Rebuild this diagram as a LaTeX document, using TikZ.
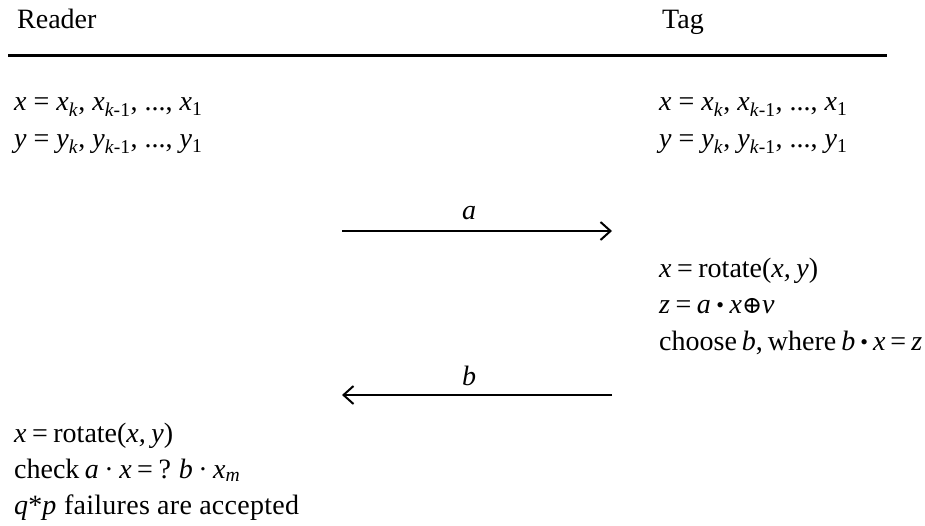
\documentclass[tikz,border=0pt]{standalone}
\usepackage{fontspec}
\setmainfont{Liberation Serif}
\newfontfamily\symfont{DejaVu Serif}
\usetikzlibrary{arrows.meta}
\newcommand{\vi}[1]{\textit{#1}}
\newcommand{\sbi}[1]{\textsubscript{\textit{#1}}}
\newcommand{\bdot}{{\fontsize{22}{22}\selectfont\raisebox{1pt}{•}}}
\newcommand{\oplussym}{{\fontsize{24}{24}\selectfont\symfont ⊕}}
\begin{document}
\begin{tikzpicture}[x=1pt,y=-1pt,
  txt/.style={anchor=base west,inner sep=0pt,font=\fontsize{28}{33}\selectfont},
  frm/.style={txt,execute at begin node={\spaceskip=5.5pt plus 0pt minus 0pt}},
  tight/.style={txt,execute at begin node={\spaceskip=5pt plus 0pt minus 0pt}},
  lbl/.style={anchor=base,inner sep=0pt,font=\fontsize{28}{33}\selectfont},
  msg/.style={line width=2pt,-{Straight Barb[length=10pt,width=18pt,line width=2pt]}}]
\useasboundingbox (0,0) rectangle (925,526);
% header
\node[txt] (reader) at (17,29) {Reader};
\node[txt] (tag) at (662,29) {Tag};
\coordinate (h1) at (8,56);
\coordinate (h2) at (887,56);
\draw[line width=3pt] (h1) -- (h2);
% initial values
\node[txt] (rx) at (14,111) {\vi{x} = \vi{x}\sbi{k}, \vi{x}\textsubscript{\vi{k}-1}, ..., \vi{x}\textsubscript{1}};
\node[txt] (ry) at (14,148) {\vi{y} = \vi{y}\sbi{k}, \vi{y}\textsubscript{\vi{k}-1}, ..., \vi{y}\textsubscript{1}};
\node[txt] (tx) at (659,111) {\vi{x} = \vi{x}\sbi{k}, \vi{x}\textsubscript{\vi{k}-1}, ..., \vi{x}\textsubscript{1}};
\node[txt] (ty) at (659,148) {\vi{y} = \vi{y}\sbi{k}, \vi{y}\textsubscript{\vi{k}-1}, ..., \vi{y}\textsubscript{1}};
% message a
\coordinate (a1) at (342,231);
\coordinate (a2) at (612,231);
\draw[msg] (a1) -- (a2);
\node[lbl] (la) at (469,220) {\vi{a}};
% tag computation
\node[frm] (t1) at (659,277) {\vi{x} = rotate(\vi{x, y})};
\node[frm] (t2) at (659,313) {\vi{z} = \vi{a} \bdot\ \vi{x}\oplussym\vi{v}};
\node[tight] (t3) at (659,350) {choose \vi{b}, where \vi{b} \bdot\ \vi{x} = \vi{z}};
% message b
\coordinate (b1) at (612,395);
\coordinate (b2) at (342,395);
\draw[msg] (b1) -- (b2);
\node[lbl] (lb) at (469,385) {\vi{b}};
% reader verification
\node[frm] (r1) at (14,442) {\vi{x} = rotate(\vi{x, y})};
\node[frm] (r2) at (14,478) {check \vi{a} · \vi{x} = ? \vi{b} · \vi{x}\sbi{m}};
\node[txt] (r3) at (14,514) {\addfontfeature{LetterSpace=1}\vi{q}*\vi{p} failures are accepted};
\end{tikzpicture}
\end{document}
